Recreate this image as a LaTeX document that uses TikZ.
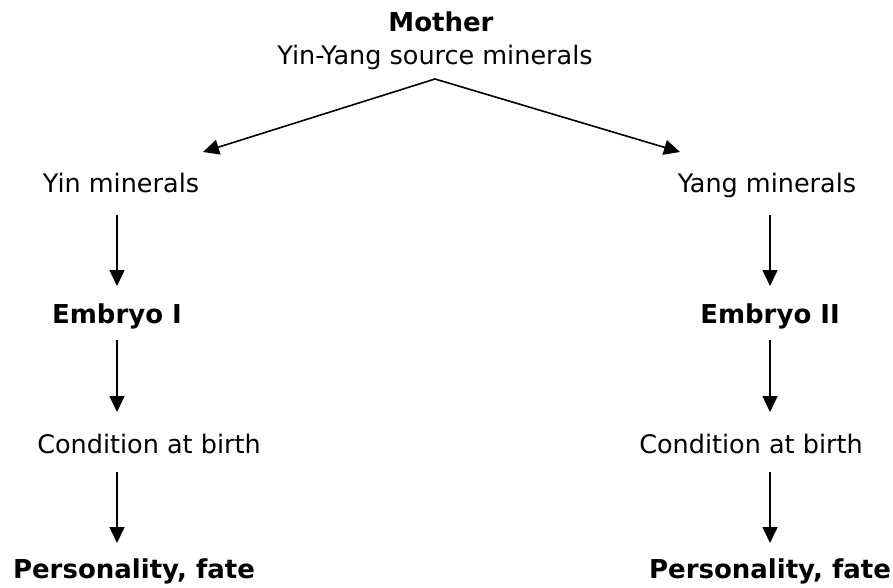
\documentclass[tikz,border=0pt]{standalone}
\usepackage{fontspec}
\setmainfont{DejaVu Sans}
\usetikzlibrary{arrows.meta}
\tikzset{
  lbl/.style={inner sep=0pt, outer sep=0pt, text height=18pt, text depth=5pt, anchor=base, font=\fontsize{25.5}{30}\selectfont},
  blbl/.style={lbl, font=\fontsize{26}{30}\selectfont\bfseries},
  arr/.style={line width=1.6pt, -{Triangle[length=16pt,width=15pt]}}
}
\begin{document}
\begin{tikzpicture}[x=1pt,y=-1pt]
\useasboundingbox (0,0) rectangle (893,588);
\node[blbl] (mother) at (441,32) {Mother};
\node[lbl] (src) at (435,65) {Yin-Yang source minerals};
\node[lbl] (yin) at (121,193) {Yin minerals};
\node[lbl] (yang) at (767,193) {Yang minerals};
\node[blbl] (emb1) at (117,323) {Embryo I};
\node[blbl] (emb2) at (770,323) {Embryo II};
\node[lbl] (cond1) at (149,453) {Condition at birth};
\node[lbl] (cond2) at (751,453) {Condition at birth};
\node[blbl] (pers1) at (134,578) {Personality, fate};
\node[blbl, anchor=base east] (pers2) at (891,578) {Personality, fate};
% diagonal arrows
\draw[arr] ([shift={(0,9)}]src.south) -- ([shift={(82,-23)}]yin.north);
\draw[arr] ([shift={(0,9)}]src.south) -- ([shift={(-87,-23)}]yang.north);
% left column
\draw[arr, shorten <=17pt, shorten >=19pt] (yin.south -| emb1) -- (emb1.north);
\draw[arr, shorten <=12pt, shorten >=23pt] (emb1.south) -- (cond1.north -| emb1);
\draw[arr, shorten <=14pt, shorten >=17pt] (cond1.south -| emb1) -- (pers1.north -| emb1);
% right column
\draw[arr, shorten <=17pt, shorten >=19pt] (yang.south -| emb2) -- (emb2.north);
\draw[arr, shorten <=12pt, shorten >=23pt] (emb2.south) -- (cond2.north -| emb2);
\draw[arr, shorten <=14pt, shorten >=17pt] (cond2.south -| emb2) -- (pers2.north -| emb2);
\end{tikzpicture}
\end{document}
